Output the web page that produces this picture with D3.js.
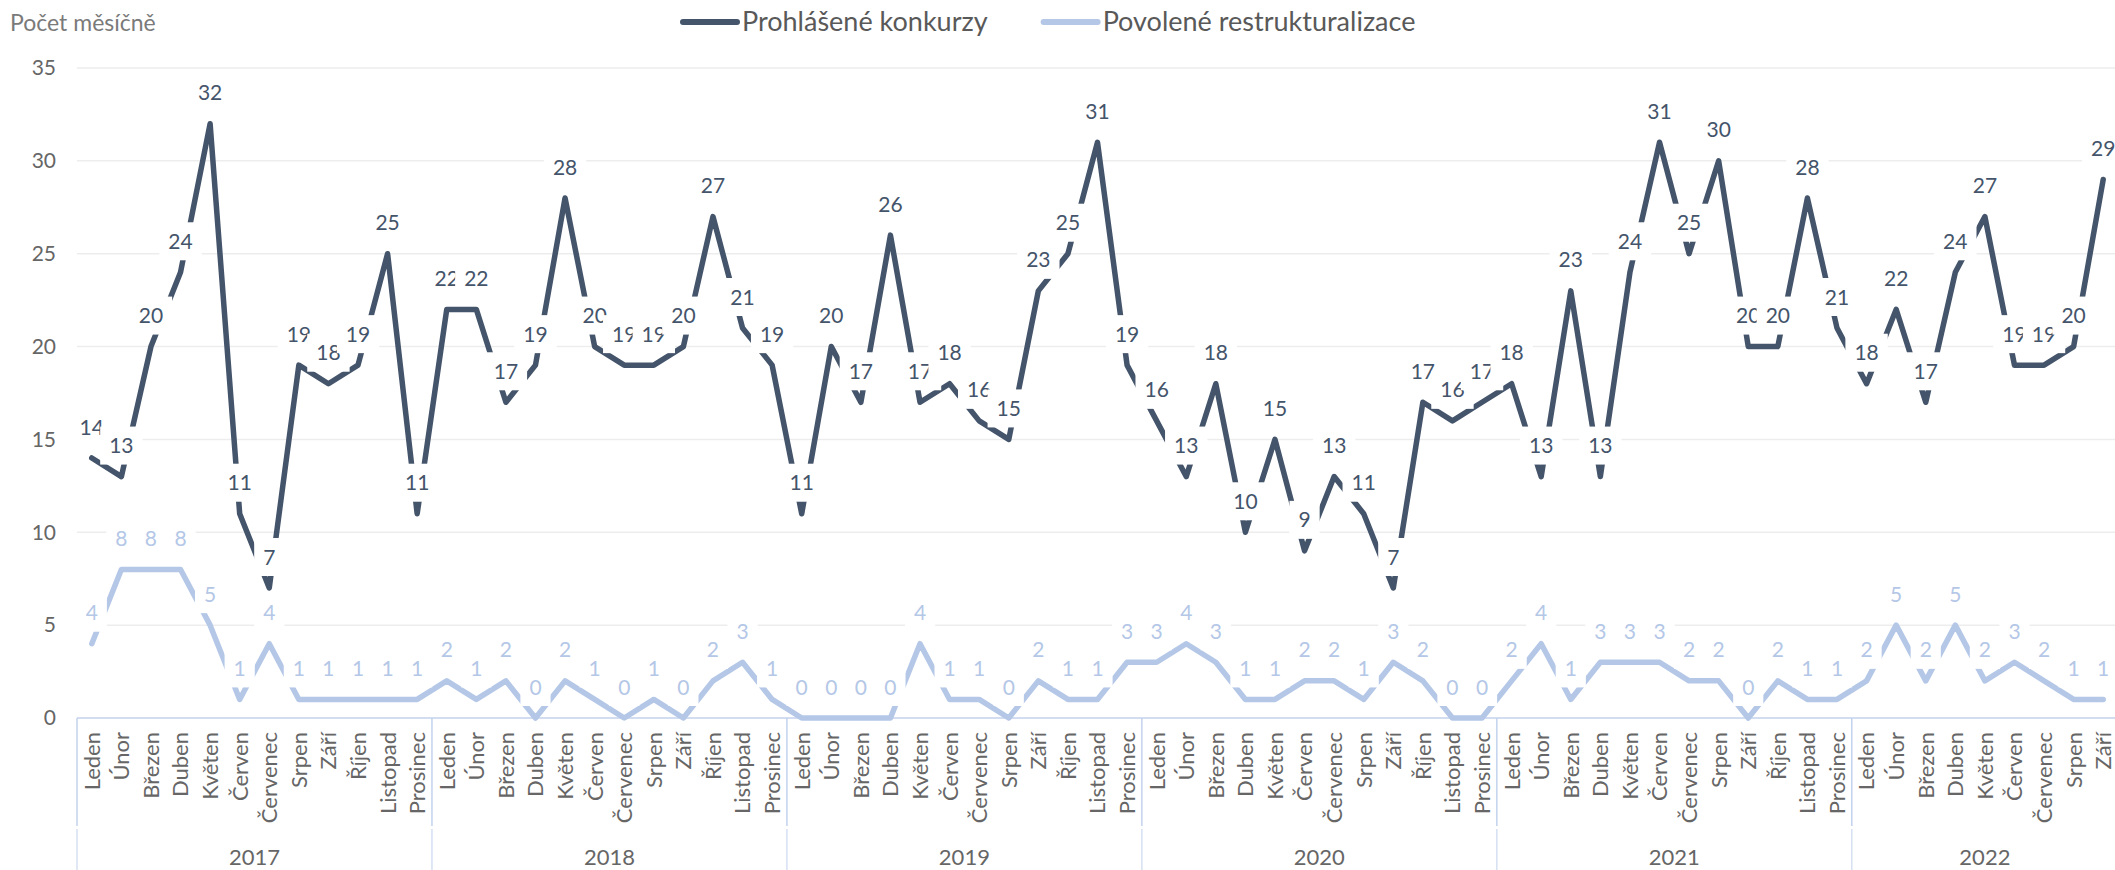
<!DOCTYPE html>
<html>
<head>
<meta charset="utf-8">
<script src="https://cdn.jsdelivr.net/npm/d3@7"></script>
<style>
  body { margin: 0; background: #fff; }
  svg text { font-family: Lato, "Open Sans", sans-serif; }
</style>
</head>
<body>
<div id="chart"></div>
<script>
// month names and years of the category axis
var monthNames = ["Leden","Únor","Březen","Duben","Květen","Červen","Červenec","Srpen","Září","Říjen","Listopad","Prosinec"];
var years = [2017, 2018, 2019, 2020, 2021, 2022];
var yTicks = [0, 5, 10, 15, 20, 25, 30, 35];

// series values, Jan 2017 .. Sep 2022
var konkurzy = [
    14,13,20,24,32,11,7,19,18,19,25,11,
    22,22,17,19,28,20,19,19,20,27,21,19,
    11,20,17,26,17,18,16,15,23,25,31,19,
    16,13,18,10,15,9,13,11,7,17,16,17,
    18,13,23,13,24,31,25,30,20,20,28,21,
    18,22,17,24,27,19,19,20,29
];
var restrukturalizace = [
    4,8,8,8,5,1,4,1,1,1,1,1,
    2,1,2,0,2,1,0,1,0,2,3,1,
    0,0,0,0,4,1,1,0,2,1,1,3,
    3,4,3,1,1,2,2,1,3,2,0,0,
    2,4,1,3,3,3,2,2,0,2,1,1,
    2,5,2,5,2,3,2,1,1
];

var seriesNames = ["Prohlášené konkurzy", "Povolené restrukturalizace"];
var seriesColors = ["#44546a", "#b4c7e7"];

var width = 2115, height = 870;
var plot = {left: 77, right: 2118, top: 68, bottom: 718};

// build category list
var categories = [];
years.forEach(function(y){
    monthNames.forEach(function(m, i){
        if (categories.length < konkurzy.length) {
            categories.push({key: y + "-" + i, month: m, year: y});
        }
    });
});

var svg = d3.select("#chart").append("svg")
    .attr("width", width)
    .attr("height", height);

var xScale = d3.scaleBand()
    .domain(categories.map(function(d){ return d.key; }))
    .range([plot.left, plot.right]);

var yScale = d3.scaleLinear()
    .domain([0, 35])
    .range([plot.bottom, plot.top]);

function cx(i) { return xScale(categories[i].key) + xScale.bandwidth() / 2; }

//gridlines
svg.append("g").selectAll("line")
    .data(yTicks.filter(function(t){ return t > 0; }))
    .enter().append("line")
    .attr("x1", plot.left).attr("x2", width)
    .attr("y1", function(d){ return yScale(d); })
    .attr("y2", function(d){ return yScale(d); })
    .attr("stroke", "#ededed")
    .attr("stroke-width", 1.5);

// y tick labels
var yAxis = d3.axisLeft(yScale).tickValues(yTicks).tickSize(0).tickPadding(0);
var yg = svg.append("g")
    .attr("transform", "translate(56,0)")
    .call(yAxis);
yg.select(".domain").remove();
yg.selectAll("text")
    .attr("fill", "#666")
    .style("font-size", "21px")
    .style("font-family", "Lato, sans-serif");

svg.append("text")
    .attr("x", 10)
    .attr("y", 31)
    .attr("fill", "#7a7a7a")
    .style("font-size", "23px")
    .text("Počet měsíčně");

// category axis line
svg.append("line")
    .attr("x1", plot.left).attr("x2", width)
    .attr("y1", plot.bottom).attr("y2", plot.bottom)
    .attr("stroke", "#c3d2ee")
    .attr("stroke-width", 1.5);

// month labels
svg.append("g").selectAll("text")
    .data(categories)
    .enter().append("text")
    .attr("transform", function(d, i){ return "translate(" + cx(i) + "," + (plot.bottom + 14) + ") rotate(-90)"; })
    .attr("dy", "0.36em")
    .attr("text-anchor", "end")
    .attr("fill", "#666")
    .style("font-size", "22px")
    .text(function(d){ return d.month; });

// year separators and labels
var yearGroups = years.map(function(y){
    var idx = [];
    categories.forEach(function(c, i){ if (c.year === y) idx.push(i); });
    return {year: y, first: idx[0], last: idx[idx.length - 1]};
});

var sepX = yearGroups.map(function(g){ return xScale(categories[g.first].key); });
sepX.push(plot.right);

svg.append("g").selectAll("line")
    .data(sepX)
    .enter().append("line")
    .attr("x1", function(d){ return d; }).attr("x2", function(d){ return d; })
    .attr("y1", plot.bottom).attr("y2", 826)
    .attr("stroke", "#c3d2ee")
    .attr("stroke-width", 1.5);

svg.append("g").selectAll("line")
    .data(sepX)
    .enter().append("line")
    .attr("x1", function(d){ return d; }).attr("x2", function(d){ return d; })
    .attr("y1", 829).attr("y2", height)
    .attr("stroke", "#d6e0f3")
    .attr("stroke-width", 1.5);

svg.append("g").selectAll("text")
    .data(yearGroups)
    .enter().append("text")
    .attr("x", function(g){ return (xScale(categories[g.first].key) + xScale(categories[g.last].key) + xScale.bandwidth()) / 2; })
    .attr("y", 865)
    .attr("text-anchor", "middle")
    .attr("fill", "#666")
    .style("font-size", "22px")
    .text(function(g){ return g.year; });

// lines
var line = d3.line()
    .x(function(d, i){ return cx(i); })
    .y(function(d){ return yScale(d); });

[konkurzy, restrukturalizace].forEach(function(values, s){
    svg.append("path")
        .datum(values)
        .attr("d", line)
        .attr("fill", "none")
        .attr("stroke", seriesColors[s])
        .attr("stroke-width", 5.5)
        .attr("stroke-linejoin", "round")
        .attr("stroke-linecap", "round");
});

// data labels with white boxes, drawn in order
[konkurzy, restrukturalizace].forEach(function(values, s){
    var g = svg.append("g");
    values.forEach(function(v, i){
        var lg = g.append("g")
            .attr("transform", "translate(" + cx(i) + "," + (yScale(v) - 31) + ")");
        var box = lg.append("rect").attr("fill", "#fff");
        var t = lg.append("text")
            .attr("text-anchor", "middle")
            .attr("dy", "0.36em")
            .attr("fill", seriesColors[s])
            .style("font-size", "21px")
            .text(v);
        var w = t.node().getComputedTextLength();
        box.attr("x", -w / 2 - 9).attr("y", -19)
            .attr("width", w + 18).attr("height", 38);
    });
});

// legend
var legend = svg.append("g");
var lx = 683;
seriesNames.forEach(function(name, s){
    legend.append("line")
        .attr("x1", lx).attr("x2", lx + 54)
        .attr("y1", 22).attr("y2", 22)
        .attr("stroke", seriesColors[s])
        .attr("stroke-width", 6)
        .attr("stroke-linecap", "round");
    var t = legend.append("text")
        .attr("x", lx + 59)
        .attr("y", 22)
        .attr("dy", "0.35em")
        .attr("fill", "#595959")
        .style("font-size", "27px")
        .text(name);
    lx += 59 + t.node().getComputedTextLength() + 56;
});
</script>
</body>
</html>
